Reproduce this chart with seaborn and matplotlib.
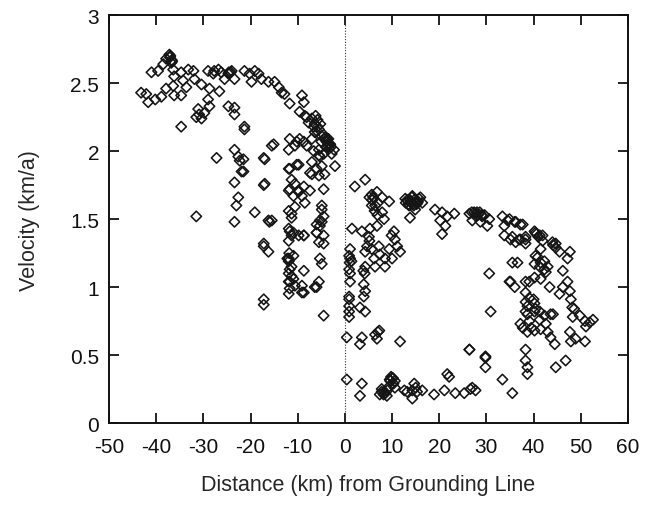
import numpy as np
import pandas as pd
import matplotlib
matplotlib.use("Agg")
import matplotlib.pyplot as plt
import seaborn as sns

# upstream of grounding line, upper arc (km, km/a)
arc_x = [-43.2, -42.1, -41.7, -40.2, -38.9, -37.9, -41.0, -39.6, -38.5, -37.9, -37.2, -36.8,
         -36.4, -36.2, -36.4, -36.2, -34.7, -34.3, -33.6, -34.7, -33.2, -32.1, -31.9, -30.4,
         -28.7, -29.0, -28.7, -26.6, -31.1, -30.9, -30.4, -31.5, -29.8, -29.0, -27.7, -26.2,
         -24.7, -24.0, -23.4, -25.5, -21.3, -20.2, -19.1, -18.3, -17.7, -19.8, -24.7, -23.4,
         -23.4, -21.3, -34.7, -14.9, -14.0, -13.4, -12.8, -11.7, -9.1, -8.7, -9.6, -8.5, -7.7,
         -6.6, -6.0, -4.9, -3.8, -3.2, -2.3, -2.8, -8.1, -7.0, -6.4, -5.5, -4.3, -6.4, -7.0,
         -5.0, -4.0, -3.5, -3.0, -4.5, -5.8, -37.0, -36.6, -26.8, -27.9, -16.2]
arc_y = [2.43, 2.42, 2.36, 2.38, 2.40, 2.46, 2.58, 2.59, 2.64, 2.68, 2.71, 2.65,
         2.60, 2.55, 2.48, 2.41, 2.58, 2.52, 2.47, 2.41, 2.60, 2.59, 2.53, 2.49,
         2.46, 2.38, 2.33, 2.44, 2.31, 2.27, 2.24, 2.25, 2.28, 2.59, 2.59, 2.58,
         2.57, 2.59, 2.53, 2.53, 2.59, 2.57, 2.59, 2.57, 2.53, 2.51, 2.33, 2.32,
         2.27, 2.18, 2.18, 2.51, 2.47, 2.43, 2.42, 2.35, 2.41, 2.36, 2.29, 2.26, 2.21,
         2.18, 2.15, 2.11, 2.09, 2.05, 2.01, 1.98, 2.25, 2.24, 2.20, 2.16, 2.09, 2.14, 2.09,
         2.07, 2.03, 2.06, 2.03, 2.12, 2.18, 2.70, 2.66, 2.60, 2.57, 2.51]

# upstream, scattered points below the arc
low_x = [-15.1, -11.7, -10.6, -9.6, -11.9, -23.4, -22.6, -22.3, -21.9, -27.2, -17.0, -23.4,
         -22.6, -23.0, -23.4, -31.5, -17.0, -19.1, -16.2, -11.9, -11.3, -11.9, -10.9, -9.8,
         -9.1, -8.5, -11.9, -11.3, -11.9, -10.9, -9.8, -8.7, -9.8, -7.0, -6.0, -7.4, -4.9,
         -4.3, -4.5, -4.9, -4.5, -5.3, -6.0, -6.6, -5.5, -21.3, -15.5, -8.7, -8.1, -10.2,
         -5.5, -4.5, -5.3, -17.2, -10.2, -11.7, -2.1, -7.0, -5.5, -10.6, -8.7, -11.7, -9.8,
         -7.4, -17.2, -15.5, -10.6, -11.3, -4.9, -5.3, -21.5, -21.5]
low_y = [2.05, 2.09, 2.04, 2.09, 2.01, 2.01, 1.96, 1.93, 1.85, 1.95, 1.94, 1.77,
         1.66, 1.60, 1.48, 1.52, 1.76, 1.55, 1.49, 1.87, 1.79, 1.71, 1.67, 1.71,
         1.67, 1.62, 1.56, 1.51, 1.43, 1.40, 1.38, 1.38, 1.90, 1.92, 1.87, 1.84, 1.89,
         1.83, 1.72, 1.57, 1.52, 1.45, 1.40, 2.00, 1.97, 2.16, 2.04, 2.07, 2.04, 2.07,
         2.01, 1.98, 1.96, 1.95, 1.90, 1.87, 1.89, 1.83, 1.82, 1.76, 1.74, 1.72, 1.70,
         1.71, 1.75, 1.49, 1.59, 1.54, 1.60, 1.49, 1.94, 1.85]

# upstream, lowest columns (below 1.5)
base_x = [-17.2, -17.2, -16.2, -11.9, -11.7, -11.3, -11.9, -11.7, -11.9, -10.9, -10.6, -9.1,
          -8.7, -8.7, -6.0, -5.5, -4.9, -5.3, -4.5, -16.0, -17.2, -11.7, -11.3, -11.9, -8.7,
          -10.9, -11.9, -11.3, -11.9, -11.7, -9.1, -6.0, -4.9, -6.0, -4.5, -5.5, -4.5,
          -6.4, -17.2]
base_y = [0.91, 0.87, 1.26, 1.21, 1.13, 1.08, 1.04, 0.99, 0.95, 1.06, 1.01, 1.01,
          0.96, 1.12, 1.00, 1.04, 1.17, 1.21, 0.79, 1.48, 1.32, 1.41, 1.38, 1.34, 1.38,
          1.23, 1.19, 1.15, 1.10, 1.04, 0.96, 1.46, 1.48, 1.40, 1.38, 1.33, 1.32,
          1.00, 1.30]

# downstream, band near 1.5 km/a out to 30 km
band_x = [2.1, 4.3, 5.7, 6.8, 7.9, 9.4, 5.7, 7.9, 8.3, 6.8, 5.3, 1.5, 3.6, 12.8, 14.3,
          15.7, 16.4, 13.6, 14.9, 13.8, 19.1, 20.6, 21.7, 23.2, 20.2, 21.3, 20.6, 26.4,
          27.7, 29.1, 30.6, 27.0, 28.7, 30.2, 6.0, 7.0, 13.2, 14.0, 15.2, 16.0, 12.9, 14.6,
          15.5, 26.9, 28.2, 29.6]
band_y = [1.74, 1.79, 1.68, 1.70, 1.66, 1.63, 1.60, 1.55, 1.50, 1.45, 1.43, 1.43, 1.41,
          1.65, 1.67, 1.65, 1.62, 1.60, 1.57, 1.51, 1.57, 1.55, 1.52, 1.54, 1.49, 1.45,
          1.39, 1.54, 1.54, 1.52, 1.50, 1.49, 1.48, 1.45, 1.66, 1.62, 1.64, 1.63, 1.61, 1.66,
          1.62, 1.60, 1.63, 1.55, 1.53, 1.53]

# downstream, points between 0 and 30 km below the band
mid_x = [5.1, 4.7, 4.3, 5.7, 6.2, 4.3, 7.2, 7.4, 8.5, 9.4, 10.4, 10.6, 11.1, 11.7, 10.0,
         6.4, 8.5, 1.1, 0.9, 1.1, 1.1, 4.0, 0.9, 4.0, 0.9, 0.9, 0.9, 0.9, 4.3, 3.2, 4.3,
         0.4, 3.6, 3.2, 6.4, 6.8, 11.7, 26.4, 1.0, 5.2, 9.9]
mid_y = [1.37, 1.30, 1.26, 1.28, 1.21, 1.15, 1.30, 1.24, 1.21, 1.28, 1.41, 1.35, 1.30,
         1.26, 1.21, 1.15, 1.15, 1.28, 1.13, 1.10, 1.04, 1.02, 0.93, 0.93, 0.91, 0.86,
         0.82, 0.78, 0.97, 0.85, 0.82, 0.63, 0.63, 0.58, 0.65, 0.62, 0.60, 0.54, 1.18,
         1.34, 1.38]

# downstream, slow points near the bed of the chart
slow_x = [0.4, 3.6, 3.2, 9.6, 9.4, 8.3, 7.4, 8.9, 10.6, 12.6, 14.7, 14.3, 15.3, 16.4,
          14.3, 13.2, 18.9, 21.1, 21.7, 22.1, 23.4, 25.3, 26.6, 27.0, 27.7, 29.8, 29.8,
          33.4, 35.5, 10.0, 10.3, 9.0, 7.8, 15.0]
slow_y = [0.32, 0.29, 0.20, 0.31, 0.27, 0.23, 0.21, 0.20, 0.26, 0.24, 0.29, 0.24, 0.23,
          0.24, 0.18, 0.23, 0.21, 0.24, 0.36, 0.34, 0.22, 0.22, 0.25, 0.26, 0.24, 0.49,
          0.41, 0.32, 0.22, 0.33, 0.29, 0.24, 0.25, 0.26]

# downstream, far field beyond 30 km
far_x = [33.4, 34.9, 36.2, 37.7, 33.8, 33.8, 35.5, 37.0, 38.3, 40.4, 41.9, 44.7, 34.5,
         36.0, 37.2, 35.1, 36.2, 37.2, 38.3, 38.3, 40.2, 41.3, 41.9, 44.0, 44.7, 45.5,
         41.5, 40.9, 40.2, 42.3, 43.0, 41.3, 42.6, 47.7, 47.2, 46.2, 36.6, 30.6, 35.1,
         36.0, 39.1, 40.2, 41.5, 43.4, 46.2, 47.2, 47.7, 40.2, 30.9, 38.7, 38.7, 40.2,
         41.3, 42.3, 43.6, 39.1, 37.2, 37.7, 38.7, 40.2, 41.5, 42.6, 43.0, 43.6, 44.5,
         47.7, 47.9, 48.9, 50.9, 48.3, 49.8, 50.9, 51.9, 51.1, 52.6, 26.4, 29.8, 38.3,
         38.3, 38.7, 38.7, 44.7, 46.8, 35.5, 34.9, 38.3, 38.3, 38.3, 38.3, 40.0, 40.4,
         41.3, 44.1, 42.3, 40.4, 41.5, 47.9, 45.5, 44.1, 39.1, 39.5]
far_y = [1.52, 1.50, 1.48, 1.46, 1.45, 1.38, 1.37, 1.35, 1.35, 1.40, 1.38, 1.32, 1.49,
         1.48, 1.46, 1.35, 1.33, 1.35, 1.37, 1.32, 1.41, 1.38, 1.34, 1.33, 1.29, 1.26,
         1.28, 1.22, 1.17, 1.19, 1.15, 1.15, 1.11, 1.26, 1.21, 1.12, 1.18, 1.10, 1.04,
         1.00, 1.04, 1.07, 1.06, 1.00, 1.00, 1.04, 0.97, 0.88, 0.82, 0.86, 0.80, 0.82,
         0.82, 0.79, 0.80, 0.75, 0.73, 0.70, 0.67, 0.68, 0.69, 0.73, 0.67, 0.63, 0.58,
         0.67, 0.60, 0.62, 0.60, 0.78, 0.79, 0.75, 0.74, 0.71, 0.76, 0.54, 0.48, 0.54,
         0.46, 0.41, 0.36, 0.41, 0.46, 1.18, 1.04, 1.04, 0.96, 0.89, 0.82, 0.91, 0.84,
         0.76, 0.80, 1.13, 1.23, 1.18, 0.91, 0.95, 1.31, 0.92, 0.70]

# tightly packed repeat measurements that print as solid black blobs
dense_x = [-3.6, -3.3, -3.9, -3.1, -4.2, -3.5, -5.2, -5.8, -6.2, -11.8, -12.2,
           13.8, 14.2, 14.7, 15.1, 13.5, 14.4, 15.4, 5.2, 5.8, 6.4, 6.9, 6.3,
           9.8, 10.2, 10.6, 9.5, 8.2, 8.6, 7.8, 27.4, 28.0, 28.6, 27.8, 29.0,
           1.1, 1.4, 0.9, 7.0, 7.3, 3.9, 4.2, -37.1, -36.7, -24.6, -24.2, 41.0, 40.6,
           48.2, 48.6]
dense_y = [2.04, 2.02, 2.07, 2.05, 2.10, 2.09, 2.20, 2.23, 2.26, 1.25, 1.21,
           1.64, 1.66, 1.64, 1.63, 1.61, 1.61, 1.62, 1.66, 1.64, 1.60, 1.53, 1.56,
           0.34, 0.33, 0.31, 0.32, 0.21, 0.22, 0.23, 1.55, 1.55, 1.55, 1.52, 1.53,
           1.21, 1.19, 1.23, 0.67, 0.68, 1.12, 1.10, 2.69, 2.67, 2.58, 2.58, 1.37, 1.39,
           0.85, 0.84]

groups = [(arc_x, arc_y), (low_x, low_y), (base_x, base_y), (band_x, band_y),
          (mid_x, mid_y), (slow_x, slow_y), (far_x, far_y), (dense_x, dense_y)]
df = pd.DataFrame({
    "dist": np.concatenate([g[0] for g in groups]),
    "vel": np.concatenate([g[1] for g in groups]),
})

sns.set_style("ticks")
plt.rcParams["font.family"] = ["Liberation Sans", "DejaVu Sans"]
plt.rcParams["axes.unicode_minus"] = False  # plain hyphens like the original

fig = plt.figure(figsize=(6.47, 5.06), dpi=100)
ax = fig.add_axes([0.1685, 0.162, 0.802, 0.806])

sns.scatterplot(data=df, x="dist", y="vel", marker="D", s=28, facecolor="none",
                edgecolor="#151515", linewidth=1.15, ax=ax, legend=False)
ax.axvline(0, color="#333333", linestyle=(0, (1, 1.5)), linewidth=0.8)

ax.set_xlim(-50, 60)
ax.set_ylim(0, 3)
ax.set_xticks(range(-50, 61, 10))
ax.set_yticks([0, 0.5, 1, 1.5, 2, 2.5, 3])
ax.set_yticklabels(["0", "0.5", "1", "1.5", "2", "2.5", "3"])
ax.tick_params(direction="in", length=7, width=1.3, top=True, right=True,
               labelsize=15, colors="#111111")
ax.tick_params(axis="x", pad=10)
ax.tick_params(axis="y", pad=7)
for sp in ax.spines.values():
    sp.set_linewidth(1.4)
    sp.set_color("#111111")

ax.set_xlabel("Distance (km) from Grounding Line", fontsize=15.5, labelpad=13)
ax.set_ylabel("Velocity (km/a)", fontsize=15.5, labelpad=22)

fig.savefig("out.png", dpi=100)
